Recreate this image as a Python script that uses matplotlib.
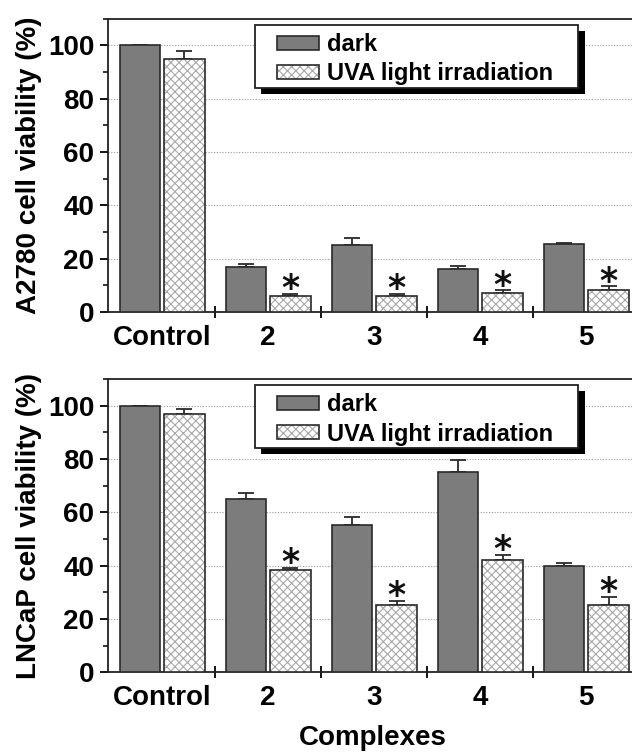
import numpy as np
import matplotlib
matplotlib.use('Agg')
import matplotlib.pyplot as plt
from matplotlib.patches import Rectangle
from matplotlib.legend_handler import HandlerTuple

# data
groups = ['Control', '2', '3', '4', '5']
a2780_dark = [100, 16.8, 25.0, 16.0, 25.5]
a2780_dark_err = [0, 1.3, 2.8, 1.1, 0.3]
a2780_uva = [95.0, 6.1, 6.1, 7.1, 8.3]
a2780_uva_err = [3.0, 0.8, 0.8, 1.0, 1.3]
lncap_dark = [100, 65.0, 55.4, 75.0, 39.8]
lncap_dark_err = [0, 2.3, 2.9, 4.7, 1.1]
lncap_uva = [96.9, 38.4, 25.3, 42.2, 25.3]
lncap_uva_err = [2.0, 0.8, 1.5, 1.9, 3.0]
star = [False, True, True, True, True]

plt.rcParams['font.family'] = ['Liberation Sans', 'DejaVu Sans']
plt.rcParams['font.weight'] = 'bold'
plt.rcParams['hatch.linewidth'] = 0.8

dark_col = '#7c7c7c'
edge_col = '#2a2a2a'
hatch_col = '#a8a8a8'

fig = plt.figure(figsize=(6.32, 7.52), dpi=100)
ax1 = fig.add_axes([0.171, 0.585, 0.839, 0.390])
ax2 = fig.add_axes([0.171, 0.106, 0.839, 0.390])

x = np.arange(len(groups))
w = 0.38
off = 0.21


def panel(ax, dark, dark_err, uva, uva_err, ylabel):
    ax.bar(x - off, dark, w, color=dark_col, edgecolor=edge_col, linewidth=1.2, zorder=3)
    ax.errorbar(x - off, dark, yerr=[np.zeros(len(dark)), dark_err], fmt='none',
                ecolor=edge_col, elinewidth=1.3, capsize=5.5, capthick=1.3, zorder=2)
    ax.bar(x + off, uva, w, color='white', edgecolor=hatch_col, hatch='xxxx', linewidth=0, zorder=3)
    ax.bar(x + off, uva, w, color='none', edgecolor=edge_col, linewidth=1.2, zorder=3.1)
    ax.errorbar(x + off, uva, yerr=[np.zeros(len(uva)), uva_err], fmt='none',
                ecolor=edge_col, elinewidth=1.3, capsize=5.5, capthick=1.3, zorder=2)
    for i in range(len(groups)):
        if star[i]:
            ax.text(x[i] + off, uva[i] + uva_err[i] - 2.0, '*', ha='center', va='baseline',
                    fontsize=25, fontweight='bold', family='DejaVu Sans', color='#111111')

    ax.set_xlim(-0.51, 4.49)
    ax.set_ylim(0, 110)
    ax.set_yticks(np.arange(0, 101, 20))
    ax.set_yticks(np.arange(10, 111, 20), minor=True)
    ax.yaxis.grid(True, which='major', linestyle=(0, (1, 1.5)), color='#999999', linewidth=0.8, zorder=0)
    ax.set_axisbelow(True)
    ax.tick_params(axis='y', which='major', direction='out', length=6, width=1.3, labelsize=20, pad=4)
    ax.tick_params(axis='y', which='minor', direction='out', length=3.5, width=1.1)

    ax.set_xticks([0.5, 1.5, 2.5, 3.5])
    ax.set_xticklabels([])
    ax.set_xticks(x, minor=True)
    ax.set_xticklabels(groups, minor=True)
    ax.tick_params(axis='x', which='major', direction='inout', length=9, width=1.3)
    ax.tick_params(axis='x', which='minor', length=0, labelsize=20, pad=9)

    for s in ['left', 'bottom', 'top']:
        ax.spines[s].set_linewidth(1.3)
        ax.spines[s].set_color('#222222')
    ax.spines['right'].set_visible(False)

    ax.set_ylabel(ylabel, fontsize=20, fontweight='bold', labelpad=4)

    # legend frame with a solid black drop shadow
    ax.add_patch(Rectangle((0.289, 0.745), 0.610, 0.215, transform=ax.transAxes,
                           facecolor='black', edgecolor='none', zorder=5))
    ax.add_patch(Rectangle((0.277, 0.765), 0.610, 0.215, transform=ax.transAxes,
                           facecolor='white', edgecolor='#222222', linewidth=1.3, zorder=5.1))

    h_dark = Rectangle((0, 0), 1, 1, facecolor=dark_col, edgecolor=edge_col, linewidth=1.2)
    h_hatch = Rectangle((0, 0), 1, 1, facecolor='white', edgecolor=hatch_col, hatch='xxxx', linewidth=0)
    h_edge = Rectangle((0, 0), 1, 1, facecolor='none', edgecolor=edge_col, linewidth=1.2)
    leg = ax.legend([h_dark, (h_hatch, h_edge)], ['dark', 'UVA light irradiation'],
                    handler_map={tuple: HandlerTuple(ndivide=1, pad=0)},
                    loc='center left', bbox_to_anchor=(0.319, 0.862), fontsize=17,
                    frameon=False, handlelength=1.78, handleheight=0.55, handletextpad=0.34,
                    borderpad=0, labelspacing=0.27, borderaxespad=0)
    leg.set_zorder(6)


panel(ax1, a2780_dark, a2780_dark_err, a2780_uva, a2780_uva_err, 'A2780 cell viability (%)')
panel(ax2, lncap_dark, lncap_dark_err, lncap_uva, lncap_uva_err, 'LNCaP cell viability (%)')
ax2.set_xlabel('Complexes', fontsize=20, fontweight='bold', labelpad=10)

fig.savefig('out.png', dpi=100)
